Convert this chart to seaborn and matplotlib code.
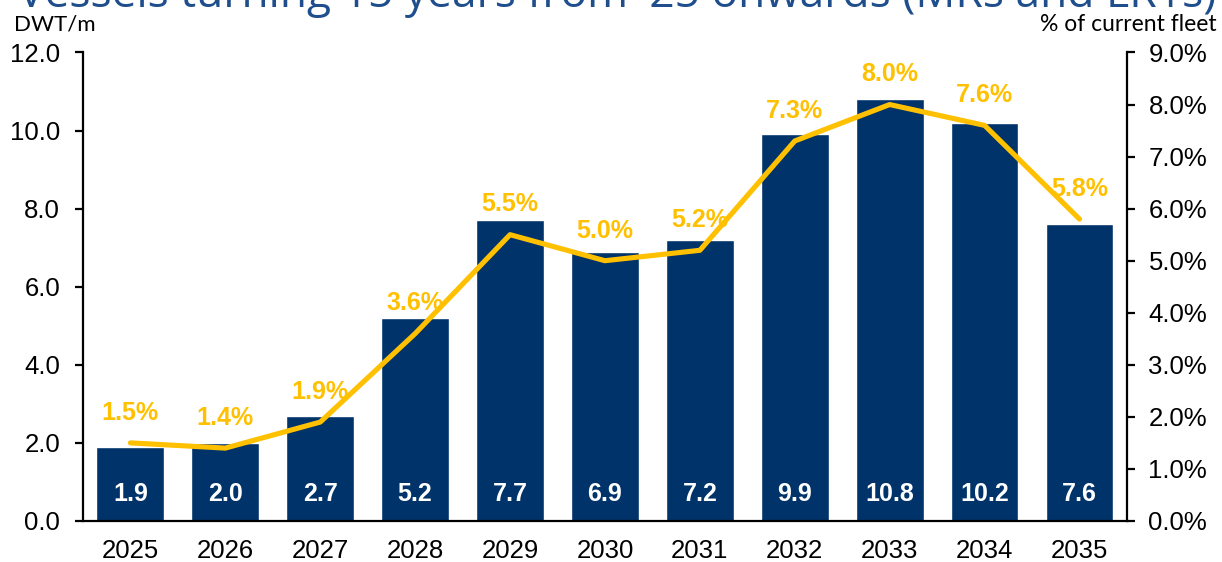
import numpy as np
import pandas as pd
import matplotlib
matplotlib.use("Agg")
import matplotlib.pyplot as plt
import seaborn as sns

years = ["2025", "2026", "2027", "2028", "2029", "2030", "2031", "2032", "2033", "2034", "2035"]
dwt_m = [1.9, 2.0, 2.7, 5.2, 7.7, 6.9, 7.2, 9.9, 10.8, 10.2, 7.6]
pct_fleet = [1.5, 1.4, 1.9, 3.6, 5.5, 5.0, 5.2, 7.3, 8.0, 7.6, 5.8]
left_ticks = [0.0, 2.0, 4.0, 6.0, 8.0, 10.0, 12.0]
right_ticks = [0, 1, 2, 3, 4, 5, 6, 7, 8, 9]
title = "Vessels turning 15 years from '25 onwards (MRs and LR1s)"

BAR = "#00336A"
GOLD = "#FFC000"
TITLE = "#1F4E8C"

sns.set_theme(style="white")
plt.rcParams["font.family"] = ["Liberation Sans", "DejaVu Sans"]

df = pd.DataFrame({"year": years, "dwt": dwt_m, "pct": pct_fleet})
df["pos"] = np.arange(len(df))

fig = plt.figure(figsize=(12.22, 5.62), dpi=100)
ax = fig.add_axes([0.0679, 0.0730, 0.8543, 0.8336])

sns.barplot(data=df, x="year", y="dwt", color=BAR, width=0.715, saturation=1,
            ax=ax, zorder=2)
ax.set_xlim(-0.5, 10.5)
ax.set_ylim(0, 12)
ax.set_yticks(left_ticks)
ax.set_yticklabels([f"{v:.1f}" for v in left_ticks])
ax.set_xlabel("")
ax.set_ylabel("")

for i, v in enumerate(dwt_m):
    ax.text(i, 0.68, f"{v:.1f}", ha="center", va="center", color="white",
            fontsize=18, fontweight="bold", zorder=5)

ax2 = ax.twinx()
sns.lineplot(data=df, x="pos", y="pct", color=GOLD, linewidth=3.7, ax=ax2,
             zorder=4)
ax2.set_ylim(0, 9)
ax2.set_xlim(-0.5, 10.5)
ax2.set_yticks(right_ticks)
ax2.set_yticklabels([f"{v:.1f}%" for v in right_ticks])
ax2.set_xlabel("")
ax2.set_ylabel("")

for i, v in enumerate(pct_fleet):
    ax2.text(i, v + 0.58, f"{v:.1f}%", ha="center", va="center", color=GOLD,
             fontsize=18, fontweight="bold", zorder=6)

for a in (ax, ax2):
    for s in a.spines.values():
        s.set_visible(False)
    a.grid(False)

for a, side in ((ax, "left"), (ax, "bottom"), (ax2, "right")):
    a.spines[side].set_visible(True)
    a.spines[side].set_color("black")
    a.spines[side].set_linewidth(1.6)

ax.tick_params(axis="y", which="major", direction="out", length=5.5, width=1.6,
               color="black", labelsize=18.5, labelcolor="black", pad=11, left=True)
ax.tick_params(axis="x", length=0, labelsize=18.5, labelcolor="black", pad=13)
ax2.tick_params(axis="y", which="major", direction="out", length=5.5, width=1.6,
                color="black", labelsize=18.5, labelcolor="black", pad=10, right=True)

fig.text(0.0115, 0.956, "DWT/m", ha="left", va="center", fontsize=16,
         family=["Lato", "DejaVu Sans"], color="black")
fig.text(0.996, 0.956, "% of current fleet", ha="right", va="center", fontsize=16.5,
         family=["Lato", "DejaVu Sans"], color="black")

# Title sits at the very top edge; size it so it spans the figure width
t = fig.text(18 / 1222, 1 - 7 / 562, title, ha="left", va="baseline", fontsize=30,
             family=["Open Sans", "DejaVu Sans"], color=TITLE)
fig.canvas.draw()
w = t.get_window_extent().width
t.set_fontsize(30 * 1200 / w)

fig.savefig("out.png", dpi=100)
